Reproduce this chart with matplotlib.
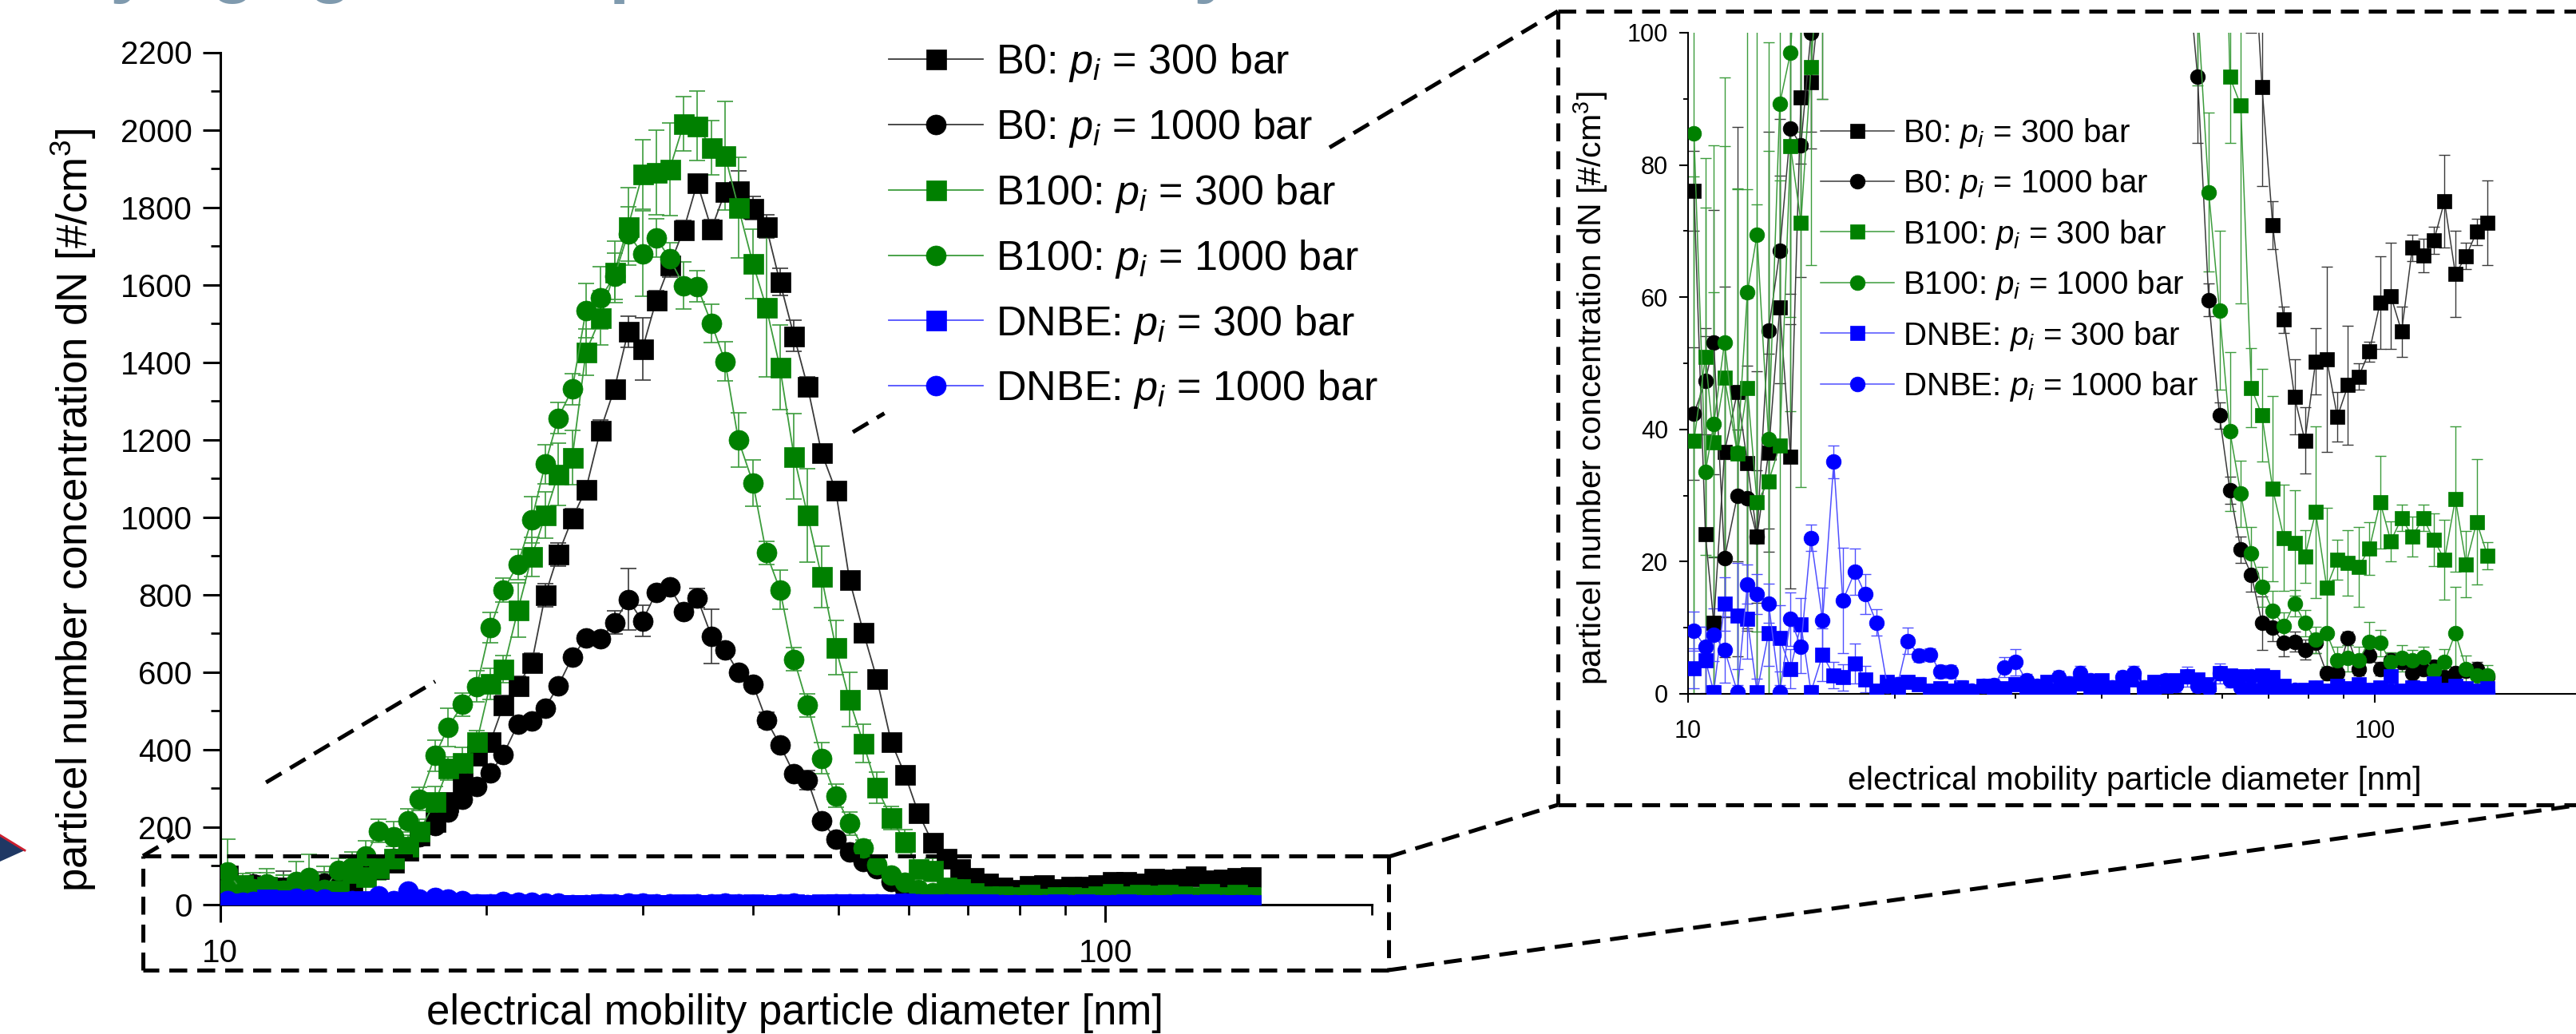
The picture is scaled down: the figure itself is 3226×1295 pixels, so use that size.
import matplotlib
matplotlib.use("Agg")
import matplotlib.pyplot as plt
from matplotlib.lines import Line2D
from matplotlib.patches import Polygon

# ---------------- data ----------------
diameter_nm = [10.2, 10.6, 10.9, 11.3, 11.8, 12.2, 12.6, 13.1, 13.6, 14.1,
               14.6, 15.1, 15.7, 16.3, 16.8, 17.5, 18.1, 18.8, 19.5, 20.2,
               20.9, 21.7, 22.5, 23.3, 24.1, 25.0, 25.9, 26.9, 27.9, 28.9,
               30.0, 31.1, 32.2, 33.4, 34.6, 35.9, 37.2, 38.5, 40.0, 41.4,
               42.9, 44.5, 46.1, 47.8, 49.6, 51.4, 53.3, 55.2, 57.3, 59.4,
               61.5, 63.8, 66.1, 68.5, 71.0, 73.7, 76.4, 79.1, 82.0, 85.1,
               88.2, 91.4, 94.7, 98.2, 101.8, 105.5, 109.4, 113.4, 117.6, 121.9,
               126.3, 131.0, 135.8, 140.7, 145.9]

b0_300 = [76.1, 24.1, 10.7, 36.6, 45.7, 34.9, 23.8, 36.5, 58.4, 35.9,
          90.2, 92.5, 110, 140, 180, 215, 265, 315, 385, 420,
          515, 565, 625, 799, 904, 997, 1072, 1225, 1332, 1479,
          1434, 1560, 1650, 1742, 1863, 1744, 1840, 1843, 1798, 1750,
          1607, 1468, 1337, 1167, 1069, 839, 703, 583, 420, 335,
          236, 160, 120, 91.8, 70.9, 56.6, 44.9, 38.3, 50.3, 50.6,
          41.9, 46.7, 48.0, 51.8, 59.2, 60.2, 54.8, 67.5, 66.3, 68.6,
          74.5, 63.5, 66.2, 69.9, 71.3]
b0_300_err = [6, 30, 10, 25, 40, 25, 25, 15, 20, 20,
              10, 10, 20, 20, 20, 15, 20, 20, 20, 20,
              25, 25, 25, 30, 30, 25, 20, 25, 20, 40,
              80, 25, 30, 25, 20, 25, 15, 50, 30, 30,
              35, 40, 25, 15, 10, 10, 10, 10, 10, 10,
              10, 8, 20, 15, 3.6, 2, 5.7, 5, 5, 14,
              3.7, 9, 2, 1.5, 7, 8, 3.8, 2, 2.5, 2,
              7, 6.5, 2, 2, 6.4]

b0_1000 = [42.4, 47.3, 53.2, 20.5, 30.0, 29.6, 23.8, 55.0, 67.0, 85.5,
           83.0, 100, 120, 145, 175, 205, 240, 272, 305, 340,
           388, 466, 473, 508, 565, 639, 688, 686, 728, 788,
           732, 806, 820, 757, 792, 693, 657, 600, 568, 477,
           412, 338, 321, 217, 170, 136, 111, 93.3, 59.6, 42.1,
           30.8, 21.8, 18.0, 10.7, 10.0, 7.7, 7.9, 6.7, 7.7, 3.1,
           3.1, 8.4, 3.8, 5.8, 3.8, 5.1, 4.8, 3.1, 3.8, 4.1,
           2.5, 3.1, 3.5, 3.8, 2.5]
b0_1000_err = [10, 8, 20, 15, 10, 20, 10, 30, 20, 25,
               20, 15, 15, 10, 10, 10, 10, 10, 10, 15,
               10, 10, 15, 10, 10, 15, 10, 15, 30, 80,
               40, 10, 10, 10, 25, 70, 10, 10, 10, 20,
               10, 10, 25, 10, 10, 10, 10, 10, 2.5, 2,
               2, 2, 2.5, 4, 2, 2, 1.5, 1.5, 1.5, 1,
               1, 1, 1, 1, 1, 1, 1, 1, 1, 1,
               1, 1, 1, 1, 1]

b100_300 = [38.3, 51.0, 38.0, 47.8, 36.3, 46.3, 29.0, 32.1, 37.6, 82.8,
            71.3, 94.8, 120, 150, 190, 265, 352, 366, 420, 570,
            607, 760, 898, 1005, 1111, 1154, 1426, 1515, 1633, 1750,
            1885, 1890, 1898, 2015, 2010, 1954, 1933, 1800, 1654, 1542,
            1387, 1157, 1005, 846, 664, 529, 416, 302, 224, 163,
            93.3, 89.0, 46.3, 42.1, 31.0, 23.6, 22.8, 20.8, 27.5, 16.1,
            20.3, 19.8, 19.2, 22.0, 29.0, 23.1, 26.6, 23.8, 26.6, 23.3,
            20.3, 29.5, 19.6, 26.0, 20.9]
b100_300_err = [40, 30, 45, 35, 40, 30, 45, 50, 40, 40,
                40, 30, 30, 30, 30, 40, 30, 40, 30, 40,
                35, 70, 50, 60, 80, 70, 60, 70, 80, 100,
                90, 110, 120, 70, 90, 70, 140, 130, 90, 180,
                110, 110, 120, 80, 70, 70, 50, 40, 30, 30,
                10, 30, 6, 7, 14, 8, 8, 4, 13, 12,
                3, 5, 6, 4, 7, 3, 2, 3, 2, 4,
                6, 11, 5, 9.5, 2]

b100_1000 = [84.8, 33.6, 40.8, 53.2, 36.5, 60.7, 69.4, 38.5, 89.3, 97.0,
             125, 190, 175, 217, 273, 385, 458, 517, 563, 715,
             812, 878, 994, 1137, 1256, 1331, 1533, 1566, 1622, 1732,
             1680, 1721, 1668, 1598, 1596, 1500, 1402, 1200, 1088, 908,
             813, 633, 515, 378, 281, 210, 146, 104, 75.9, 58.0,
             39.7, 30.3, 21.3, 16.2, 12.6, 10.3, 13.7, 10.7, 8.2, 9.2,
             5.1, 5.4, 5.1, 7.9, 7.7, 4.8, 5.4, 5.1, 5.6, 3.5,
             4.8, 9.2, 3.8, 2.8, 2.8]
b100_1000_err = [85, 40, 20, 40, 40, 50, 60, 60, 30, 40,
                 40, 30, 40, 30, 30, 40, 50, 30, 40, 40,
                 30, 40, 60, 50, 40, 40, 70, 80, 60, 70,
                 110, 50, 40, 60, 40, 50, 50, 70, 60, 30,
                 50, 30, 30, 40, 30, 30, 20, 12, 12, 12,
                 12, 5, 4, 3, 3, 2, 2, 2, 2, 6,
                 2, 2, 2, 3, 2, 1.5, 2, 1.5, 1.5, 1.5,
                 2, 7, 2, 1.5, 1.5]

dnbe_300 = [3.9, 5.1, 0.3, 13.6, 11.8, 11.3, 0.3, 9.2, 8.4, 3.8,
            10.5, 0.3, 5.9, 2.8, 2.5, 4.6, 2.2, 0.5, 1.8, 0.5,
            1.8, 1.5, 0.5, 0.8, 0.5, 1.0, 0.3, 1.2, 0.5, 0.8,
            1.5, 0.5, 1.0, 1.8, 0.6, 0.3, 1.6, 0.5, 2.0, 0.4,
            1.0, 2.2, 0.8, 1.8, 1.2, 2.0, 2.6, 2.2, 1.4, 3.1,
            2.8, 2.6, 1.0, 2.8, 2.5, 1.2, 0.4, 0.6, 1.0, 0.5,
            1.2, 0.8, 1.5, 0.6, 1.0, 2.7, 0.5, 1.0, 0.8, 1.6,
            0.6, 1.2, 0.8, 0.5, 0.8]
dnbe_300_err = [3, 5, 1, 4, 8, 6, 2, 5, 5, 3,
                4, 1, 4, 2, 2, 3, 2, 1, 1, 1,
                1, 1, 1, 1, 1, 1, 1, 1, 1, 1,
                1, 1, 1, 1, 1, 1, 1, 1, 1, 1,
                1, 1, 1, 1, 1, 1, 1.5, 1, 1, 1.5,
                1, 1, 1, 1, 1, 1, 0.5, 0.5, 0.5, 0.5,
                0.5, 0.5, 0.5, 0.5, 0.5, 1, 0.5, 0.5, 0.5, 0.5,
                0.5, 0.5, 0.5, 0.5, 0.5]

dnbe_1000 = [9.5, 7.1, 8.9, 6.7, 0.3, 16.6, 15.1, 13.7, 0.3, 11.3,
             7.1, 23.6, 11.1, 35.1, 14.1, 18.5, 15.1, 10.8, 1.2, 1.5,
             8.0, 5.8, 5.9, 3.4, 3.4, 0.8, 0.5, 1.2, 1.3, 4.0,
             4.8, 2.0, 1.2, 0.8, 2.5, 1.6, 3.2, 2.0, 0.6, 1.0,
             2.5, 3.2, 1.0, 0.5, 2.0, 1.3, 2.6, 1.2, 0.8, 3.1,
             2.0, 1.0, 2.6, 0.8, 0.6, 0.4, 0.6, 0.3, 0.8, 0.4,
             0.5, 0.3, 0.5, 0.4, 0.6, 0.5, 0.3, 0.3, 0.2, 0.5,
             0.3, 0.4, 0.3, 0.3, 0.2]
dnbe_1000_err = [3, 3, 4, 5, 1, 3, 3, 3, 1, 4,
                 4, 2, 5, 2.5, 8, 3.5, 3, 2, 1, 1,
                 2, 1, 1, 1, 1, 1, 1, 1, 1, 1.5,
                 2, 1, 1, 1, 1, 1, 1, 1, 1, 1,
                 1, 1, 1, 1, 1, 1, 1, 1, 1, 1,
                 1, 1, 1, 1, 0.5, 0.5, 0.5, 0.5, 0.5, 0.5,
                 0.5, 0.5, 0.5, 0.5, 0.5, 0.5, 0.5, 0.5, 0.5, 0.5,
                 0.5, 0.5, 0.5, 0.5, 0.5]

series_labels = ["B0: $p_i$ = 300 bar", "B0: $p_i$ = 1000 bar",
                 "B100: $p_i$ = 300 bar", "B100: $p_i$ = 1000 bar",
                 "DNBE: $p_i$ = 300 bar", "DNBE: $p_i$ = 1000 bar"]
series_values = [b0_300, b0_1000, b100_300, b100_1000, dnbe_300, dnbe_1000]
series_errors = [b0_300_err, b0_1000_err, b100_300_err, b100_1000_err,
                 dnbe_300_err, dnbe_1000_err]
series_markers = ["s", "o", "s", "o", "s", "o"]
series_colors = ["#000000", "#000000", "#008000", "#008000", "#0000ff", "#0000ff"]
series_linecolors = ["#3a3a3a", "#3a3a3a", "#3c9c3c", "#3c9c3c", "#5050ff", "#5050ff"]

main_yticks = [0, 200, 400, 600, 800, 1000, 1200, 1400, 1600, 1800, 2000, 2200]
inset_yticks = [0, 20, 40, 60, 80, 100]
x_major = [10, 100]
x_minor = [20, 30, 40, 50, 60, 70, 80, 90, 200]
xlabel_text = "electrical mobility particle diameter [nm]"
ylabel_text = "particel number concentration dN [#/cm$^{3}$]"

# ---------------- style ----------------
plt.rcParams["font.family"] = ["Liberation Sans", "DejaVu Sans"]
plt.rcParams["mathtext.fontset"] = "custom"
plt.rcParams["mathtext.rm"] = "Liberation Sans"
plt.rcParams["mathtext.it"] = "Liberation Sans:italic"
plt.rcParams["mathtext.bf"] = "Liberation Sans:bold"

W, H, DPI = 3226, 1295, 100
fig = plt.figure(figsize=(W / DPI, H / DPI), dpi=DPI)


def fx(px):
    return px / W


def fy(py):
    return 1 - py / H


ax = fig.add_axes([fx(275.5), fy(1133), (1718 - 275.5) / W, (1133 - 65.5) / H])
axi = fig.add_axes([fx(2114), fy(869), (3233 - 2114) / W, (869 - 41) / H])


def draw(a, ms, lw, elw, cap):
    for vals, errs, mk, c, lc, lab in zip(series_values, series_errors, series_markers,
                                          series_colors, series_linecolors, series_labels):
        a.errorbar(diameter_nm, vals, yerr=errs, fmt="none", ecolor=lc,
                   elinewidth=elw, capsize=cap, capthick=elw, zorder=2)
        a.plot(diameter_nm, vals, color=lc, lw=lw, marker=mk, ms=ms,
               mfc=c, mec=c, mew=0.5, label=lab, zorder=3)


draw(ax, 18, 1.3, 1.2, 7)
draw(axi, 13.5, 1.1, 1.0, 4.8)

for a, ylim, yt, ystep, fs_tick, major_len, minor_len, tw, xpad, ypad in [
        (ax, (0, 2200), main_yticks, 100, 29, 16, 9, 2.2, 14, 9),
        (axi, (0, 100), inset_yticks, 10, 22, 8, 4.5, 1.5, 15, 10)]:
    a.set_xscale("log")
    a.set_xlim(10, 200)
    a.set_ylim(*ylim)
    a.set_xticks(x_major, labels=[str(v) for v in x_major])
    a.set_xticks(x_minor, minor=True)
    a.set_xticklabels([], minor=True)
    a.set_yticks(yt, labels=[str(v) for v in yt])
    a.set_yticks([v + ystep for v in yt[:-1]], minor=True)
    for s in ("top", "right"):
        a.spines[s].set_visible(False)
    for s in ("left", "bottom"):
        a.spines[s].set_linewidth(tw)
    a.tick_params(which="major", direction="out", length=major_len, width=tw,
                  labelsize=fs_tick)
    a.tick_params(which="minor", direction="out", length=minor_len, width=tw * 0.9)
    a.tick_params(axis="x", which="major", pad=xpad)
    a.tick_params(axis="y", which="major", pad=ypad)
    a.patch.set_alpha(0)

# axis labels
ax.set_xlabel(xlabel_text, fontsize=38)
ax.xaxis.set_label_coords((996 - 275.5) / 1442.5, (1133 - 1269) / 1067.5)
ax.xaxis.label.set_va("center")
ax.set_ylabel(ylabel_text, fontsize=38)
ax.yaxis.set_label_coords((92 - 275.5) / 1442.5, (1133 - 639) / 1067.5)
ax.yaxis.label.set_va("center")

axi.set_xlabel(xlabel_text, fontsize=29.5)
axi.xaxis.set_label_coords((2673 - 2114) / 1119, (869 - 978) / 828)
axi.xaxis.label.set_va("center")
axi.set_ylabel(ylabel_text, fontsize=29.5)
axi.yaxis.set_label_coords((1992 - 2114) / 1119, (869 - 486) / 828)
axi.yaxis.label.set_va("center")


# legends: rows placed so that first/last entries sit where the reference has them
def place_legend(a, x_left, y_first, y_last, fs, hl, htp):
    target = (y_last - y_first) / 5.0
    fs_px = fs * DPI / 72.0
    ls = 0.3
    leg = None
    for _ in range(4):
        if leg is not None:
            leg.remove()
        leg = a.legend(loc="center left", bbox_to_anchor=(fx(x_left), fy((y_first + y_last) / 2)),
                       bbox_transform=fig.transFigure, frameon=False, fontsize=fs,
                       handlelength=hl, handletextpad=htp, labelspacing=ls,
                       borderpad=0, borderaxespad=0)
        fig.canvas.draw()
        r = fig.canvas.get_renderer()
        ys = [0.5 * (t.get_window_extent(r).y0 + t.get_window_extent(r).y1) for t in leg.get_texts()]
        pitch = (ys[0] - ys[-1]) / 5.0
        ls = ls + (target - pitch) / fs_px
    return leg


place_legend(ax, 1113, 78.6, 488, 37.5, 2.27, 0.31)
place_legend(axi, 2280, 166.6, 484, 29, 2.28, 0.27)

# dashed zoom boxes and connectors
dash = dict(color="black", lw=3.6, ls=(0, (4.5, 2.5)), transform=fig.transFigure,
            zorder=20, solid_capstyle="butt", dash_capstyle="butt")


def seg(p0, p1):
    fig.add_artist(Line2D([fx(p0[0]), fx(p1[0])], [fy(p0[1]), fy(p1[1])], **dash))


# main box
seg((179, 1072), (1739, 1072))
seg((1739, 1072), (1739, 1215))
seg((1739, 1215), (179, 1215))
seg((179, 1215), (179, 1072))
# inset box
seg((1951, 14), (3240, 14))
seg((1951, 14), (1951, 1008))
seg((1951, 1008), (3240, 1008))
# connectors
seg((1739, 1073), (1951, 1008))
seg((1739, 1215), (3232, 1008))
start, end = (179, 1072), (1951, 14)
for t0, t1 in [(0.0, 0.022), (0.087, 0.2065), (0.5017, 0.524), (0.8386, 1.0)]:
    seg((start[0] + t0 * (end[0] - start[0]), start[1] + t0 * (end[1] - start[1])),
        (start[0] + t1 * (end[0] - start[0]), start[1] + t1 * (end[1] - start[1])))

# slide decorations: cut-off title glyphs and arrow at the left edge
for ch, xp in [("y", 163), ("g", 291), ("g", 413), ("p", 791), ("y", 1520)]:
    fig.text(fx(xp), fy(-14), ch, fontsize=66, fontweight="bold", color="#7f9aae",
             ha="center", va="baseline")
fig.add_artist(Polygon([(fx(0), fy(1046)), (fx(31), fy(1065)), (fx(0), fy(1079))],
                       closed=True, facecolor="#1f3864", edgecolor="none",
                       transform=fig.transFigure))
fig.add_artist(Line2D([fx(0), fx(31)], [fy(1046), fy(1065)], color="#cc1f2f", lw=2,
                      transform=fig.transFigure))

fig.savefig("out.png", dpi=DPI)
